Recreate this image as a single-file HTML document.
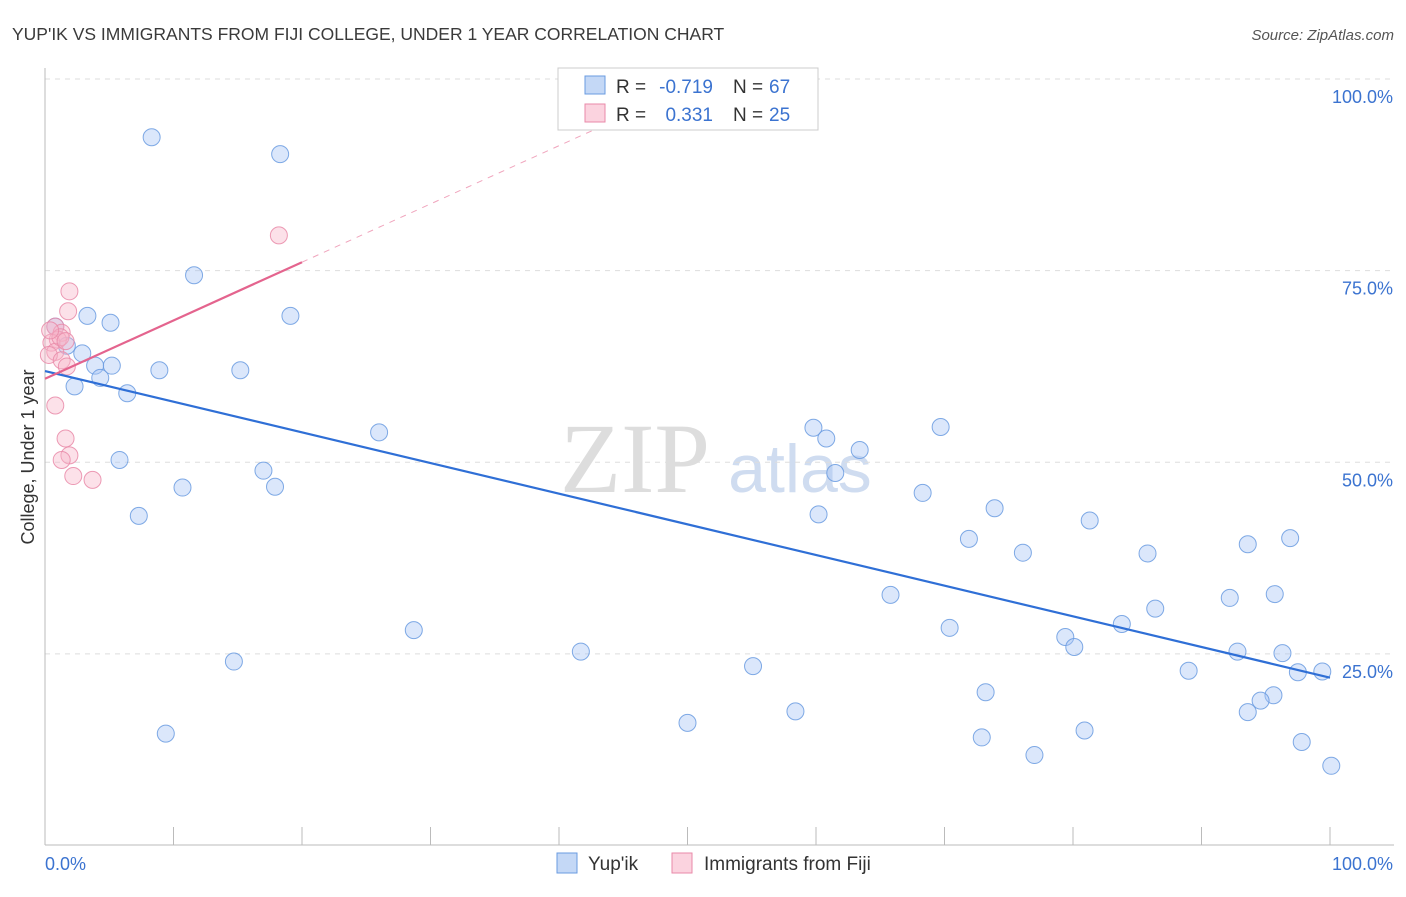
<!DOCTYPE html>
<html><head><meta charset="utf-8"><style>
body{margin:0;background:#fff;font-family:"Liberation Sans",sans-serif;}
</style></head><body>
<svg id="c" width="1406" height="892" xmlns="http://www.w3.org/2000/svg">
<text x="12" y="40" font-size="17.5" fill="#3a3a3a">YUP'IK VS IMMIGRANTS FROM FIJI COLLEGE, UNDER 1 YEAR CORRELATION CHART</text>
<text x="1394" y="40" font-size="15" fill="#555" text-anchor="end" font-style="italic">Source: ZipAtlas.com</text>
<text x="635" y="492" font-size="100" fill="#ddd" text-anchor="middle" font-family="Liberation Serif,serif">ZIP</text>
<text x="800" y="492" font-size="68" fill="#cfdcf0" text-anchor="middle">atlas</text>
<g id="grid"></g><g id="axes"></g><g id="lines"></g><g id="pts"></g>
<text transform="translate(34,457) rotate(-90)" font-size="18" fill="#333" text-anchor="middle">College, Under 1 year</text>
<g>
<rect x="558" y="68" width="260" height="62" fill="#fff" stroke="#ccc"/>
<rect x="585" y="76" width="20" height="18" fill="#c4d8f6" stroke="#6a9be0"/>
<rect x="585" y="104" width="20" height="18" fill="#fbd3df" stroke="#e98aa8"/>
<text x="616" y="93" font-size="19" fill="#333">R =</text>
<text x="713" y="93" font-size="19" fill="#3b73d0" text-anchor="end">-0.719</text>
<text x="733" y="93" font-size="19" fill="#333">N =</text>
<text x="769" y="93" font-size="19" fill="#3b73d0">67</text>
<text x="616" y="121" font-size="19" fill="#333">R =</text>
<text x="713" y="121" font-size="19" fill="#3b73d0" text-anchor="end">0.331</text>
<text x="733" y="121" font-size="19" fill="#333">N =</text>
<text x="769" y="121" font-size="19" fill="#3b73d0">25</text>
</g>
<g>
<rect x="557" y="853" width="20" height="20" fill="#c4d8f6" stroke="#6a9be0"/>
<text x="588" y="870" font-size="19" fill="#333">Yup'ik</text>
<rect x="672" y="853" width="20" height="20" fill="#fbd3df" stroke="#e98aa8"/>
<text x="704" y="870" font-size="19" fill="#333">Immigrants from Fiji</text>
</g>
</svg>
<script>
const blueX=[8.3,18.3,11.6,3.3,5.1,19.1,0.8,1.7,2.9,3.9,5.2,4.3,2.3,6.4,8.9,15.2,26,5.8,17,10.7,17.9,7.3,59.8,60.8,63.4,69.7,61.5,68.3,60.2,73.9,81.3,71.9,76.1,85.8,93.6,96.9,65.8,86.4,92.2,95.7,70.4,83.8,79.4,80.1,28.7,41.7,14.7,55.1,92.8,96.3,89,73.2,97.5,99.4,95.6,94.6,93.6,58.4,50,9.4,72.9,80.9,77,97.8,100.1];
const blueY=[92.4,90.2,74.4,69.1,68.2,69.1,67.7,65.2,64.2,62.6,62.6,61,59.9,59,62,62,53.9,50.3,48.9,46.7,46.8,43,54.5,53.1,51.6,54.6,48.6,46,43.2,44,42.4,40,38.2,38.1,39.3,40.1,32.7,30.9,32.3,32.8,28.4,28.9,27.2,25.9,28.1,25.3,24,23.4,25.3,25.1,22.8,20,22.6,22.7,19.6,18.9,17.4,17.5,16,14.6,14.1,15,11.8,13.5,10.4];
const pinkX=[1.9,1.8,0.8,1.3,1,0.5,0.8,0.3,1.3,1.7,0.8,1.6,1.9,1.3,2.2,3.7,18.2,1.2,0.4,1.6];
const pinkY=[72.3,69.7,67.7,66.9,66,65.6,64.4,64,63.3,62.5,57.4,53.1,50.9,50.3,48.2,47.7,79.6,66.3,67.2,65.8];
const blueLine=[61.9,21.9];
const pinkLine=[60.9,76.1];
const xTicks=["0.0%","100.0%"];
const yTicks=[25,50,75,100];
const yTickLabels=["25.0%","50.0%","75.0%","100.0%"];
const X=v=>45+v*12.85, Y=v=>845.5-v*7.665;
const NS="http://www.w3.org/2000/svg";
function mk(t,a,p){const e=document.createElementNS(NS,t);for(const k in a)e.setAttribute(k,a[k]);p.appendChild(e);return e;}
const grid=document.getElementById('grid'),axes=document.getElementById('axes'),lines=document.getElementById('lines'),pts=document.getElementById('pts');
yTicks.forEach((v,i)=>{
 const l=mk('line',{x1:45,x2:1394,y1:Y(v),y2:Y(v),stroke:'#ddd','stroke-dasharray':'5,5'},grid);
 
 
 const t=mk('text',{x:1393,y:Y(v)+24,'font-size':18,fill:'#3b73d0','text-anchor':'end'},grid);
 t.textContent=yTickLabels[i];
 
 
});
const ya=mk('line',{x1:45,x2:45,y1:68,y2:845,stroke:'#bbb'},axes);


const xa=mk('line',{x1:45,x2:1394,y1:845,y2:845,stroke:'#bbb'},axes);


for(let i=1;i<=10;i++){const t=mk('line',{x1:X(i*10),x2:X(i*10),y1:827,y2:845,stroke:'#bbb'},axes);
 
 }
[[0,'start',45],[100,'end',1393]].forEach((d,i)=>{const t=mk('text',{x:d[2],y:870,'font-size':18,fill:'#3b73d0','text-anchor':d[1]},axes);t.textContent=xTicks[i];
 
 });
function circ(xs,ys,fill,stroke,name){xs.forEach((x,i)=>{const c=mk('circle',{cx:X(x),cy:Y(ys[i]),r:8.5,fill:fill,stroke:stroke,'stroke-width':1,'stroke-opacity':0.85},pts);
 
 });}
const ps=(pinkLine[1]-pinkLine[0])/20;
let xe=100,ye=pinkLine[0]+ps*100; if(ye>101.4){xe=(101.4-pinkLine[0])/ps;ye=101.4;}
const pd=mk('line',{x1:X(20),y1:Y(pinkLine[1]),x2:X(xe),y2:Y(ye),stroke:'#f0a5bd','stroke-dasharray':'6,6','stroke-width':1},lines);


circ(blueX,blueY,'rgba(164,194,244,0.4)','#6a9be0','yupik-point');
circ(pinkX,pinkY,'rgba(248,180,200,0.4)','#e98aa8','fiji-point');
const bl=mk('line',{x1:X(0),y1:Y(blueLine[0]),x2:X(100),y2:Y(blueLine[1]),stroke:'#2f6fd6','stroke-width':2.2},pts);


const pl=mk('line',{x1:X(0),y1:Y(pinkLine[0]),x2:X(20),y2:Y(pinkLine[1]),stroke:'#e4648e','stroke-width':2.2},pts);


</script>
</body></html>
